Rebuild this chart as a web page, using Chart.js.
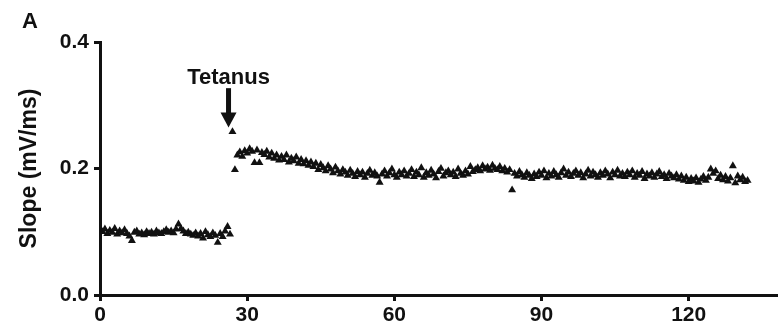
<!DOCTYPE html>
<html>
<head>
<meta charset="utf-8">
<script src="https://cdn.jsdelivr.net/npm/chart.js@4/dist/chart.umd.min.js"></script>
<style>
  html, body { margin: 0; padding: 0; background: #fff; }
  #wrap { width: 782px; height: 334px; }
</style>
</head>
<body>
<div id="wrap"><canvas id="chart"></canvas></div>
<script>
// sampling: one sweep every 30 s (minutes)
const sampleStep = 0.5;

// baseline slopes, first sweep at 0.5 min
const baselineStart = 0.5;
const baselineSlope = [
  0.100, 0.104, 0.097, 0.102, 0.099, 0.105, 0.096, 0.101, 0.098, 0.103,
  0.097, 0.093, 0.086, 0.099, 0.101, 0.096, 0.098, 0.095, 0.100, 0.097,
  0.099, 0.096, 0.101, 0.098, 0.097, 0.100, 0.103, 0.099, 0.101, 0.098,
  0.104, 0.112, 0.105, 0.101, 0.097, 0.099, 0.096, 0.094, 0.098, 0.093,
  0.097, 0.090, 0.100, 0.095, 0.092, 0.098, 0.094, 0.083, 0.097, 0.092,
  0.101, 0.108, 0.096
];

// post-tetanus slopes, first sweep at 27 min
const postStart = 27;
const postSlope = [
  0.258, 0.198, 0.221, 0.226, 0.219, 0.228, 0.224, 0.231, 0.227, 0.209,
  0.229, 0.209, 0.225, 0.222, 0.227, 0.218, 0.224, 0.216, 0.221, 0.213,
  0.219, 0.214, 0.221, 0.210, 0.216, 0.212, 0.218, 0.208, 0.214, 0.207,
  0.212, 0.205, 0.210, 0.203, 0.208, 0.198, 0.206, 0.201, 0.196, 0.204,
  0.199, 0.193, 0.202, 0.196, 0.191, 0.198, 0.194, 0.189, 0.197, 0.192,
  0.187, 0.195, 0.190, 0.194, 0.186, 0.192, 0.197, 0.189, 0.193, 0.188,
  0.178, 0.191, 0.196, 0.188, 0.193, 0.199, 0.190, 0.186, 0.194, 0.190,
  0.196, 0.188, 0.192, 0.198, 0.187, 0.194, 0.190, 0.201, 0.186, 0.193,
  0.189, 0.197, 0.191, 0.185, 0.195, 0.200, 0.188, 0.193, 0.196, 0.190,
  0.194, 0.187, 0.199, 0.192, 0.189, 0.196, 0.191, 0.203, 0.195, 0.198,
  0.201, 0.196, 0.204, 0.199, 0.202, 0.197, 0.205, 0.200, 0.198, 0.203,
  0.196, 0.200, 0.194, 0.198, 0.166, 0.192, 0.188, 0.195, 0.190, 0.186,
  0.193, 0.189, 0.184, 0.191, 0.187, 0.194, 0.189, 0.196, 0.185, 0.192,
  0.188, 0.195, 0.190, 0.186, 0.193, 0.199, 0.189, 0.194, 0.187, 0.192,
  0.196, 0.189, 0.193, 0.185, 0.191, 0.197, 0.188, 0.194, 0.190, 0.186,
  0.193, 0.189, 0.196, 0.191, 0.185, 0.194, 0.190, 0.197, 0.188, 0.192,
  0.187, 0.194, 0.190, 0.196, 0.186, 0.192, 0.189, 0.195, 0.184, 0.191,
  0.188, 0.193, 0.186, 0.191, 0.195, 0.187, 0.190, 0.184, 0.192, 0.188,
  0.185, 0.190, 0.183, 0.188, 0.181, 0.186, 0.179, 0.184, 0.180, 0.185,
  0.178, 0.183, 0.187, 0.181, 0.186, 0.199, 0.192, 0.196, 0.184, 0.189,
  0.182, 0.187, 0.180, 0.185, 0.204, 0.177, 0.188, 0.182, 0.186, 0.179,
  0.181
];

const xTicks = [0, 30, 60, 90, 120];
const yTicks = [0.0, 0.2, 0.4];
const tetanusAt = 26.2;

// build {x, y} points for the scatter
function toPoints(start, values) {
  return values.map((v, i) => ({ x: start + i * sampleStep, y: v }));
}
const points = toPoints(baselineStart, baselineSlope).concat(toPoints(postStart, postSlope));

const FONT = "'Liberation Sans', Arial, Helvetica, sans-serif";

// panel letter + tetanus arrow
const annotate = {
  id: "annotate",
  afterDraw(chart) {
    const ctx = chart.ctx;
    const x = chart.scales.x.getPixelForValue(tetanusAt);
    const y = chart.scales.y;
    const top = y.getPixelForValue(0.327);
    const tip = y.getPixelForValue(0.265);
    const headTop = tip - 15;
    ctx.save();
    ctx.fillStyle = "#111";
    ctx.font = "bold 22px " + FONT;
    ctx.textAlign = "left";
    ctx.textBaseline = "alphabetic";
    ctx.fillText("A", 22, 28);

    ctx.font = "bold 22px " + FONT;
    ctx.textAlign = "center";
    ctx.fillText("Tetanus", x, y.getPixelForValue(0.347) + 8);

    // shaft
    ctx.fillRect(x - 2.5, top, 5, headTop - top + 1);
    // head
    ctx.beginPath();
    ctx.moveTo(x - 8, headTop);
    ctx.lineTo(x + 8, headTop);
    ctx.lineTo(x, tip);
    ctx.closePath();
    ctx.fill();
    ctx.restore();
  }
};

const axisStyle = {
  grid: { display: true, drawOnChartArea: false, drawTicks: true, tickLength: 6, tickWidth: 3, tickColor: "#111", color: "#111" },
  border: { display: true, width: 3, color: "#111" }
};

new Chart(document.getElementById("chart"), {
  type: "scatter",
  data: {
    datasets: [{
      data: points,
      pointStyle: "triangle",
      pointRadius: 4.6,
      backgroundColor: "#111",
      borderColor: "#111",
      borderWidth: 0,
      showLine: false
    }]
  },
  plugins: [annotate],
  options: {
    responsive: true,
    maintainAspectRatio: false,
    animation: false,
    layout: { padding: { left: 12, top: 42, right: 5, bottom: 0 } },
    plugins: {
      legend: { display: false },
      tooltip: { enabled: false }
    },
    scales: {
      x: {
        type: "linear",
        min: 0,
        max: 138,
        ...axisStyle,
        afterFit: s => { s.height = 39; },
        afterBuildTicks: s => { s.ticks = xTicks.map(v => ({ value: v })); },
        ticks: {
          color: "#111",
          padding: 2,
          font: { family: FONT, size: 21, weight: "bold" },
          callback: v => String(v)
        }
      },
      y: {
        type: "linear",
        min: 0,
        max: 0.4,
        ...axisStyle,
        afterFit: s => { s.width = 88; },
        afterBuildTicks: s => { s.ticks = yTicks.map(v => ({ value: v })); },
        ticks: {
          color: "#111",
          padding: 5,
          font: { family: FONT, size: 21, weight: "bold" },
          callback: v => v.toFixed(1)
        },
        title: {
          display: true,
          text: "Slope (mV/ms)",
          color: "#111",
          padding: { top: 4, bottom: 4 },
          font: { family: FONT, size: 23, weight: "bold" }
        }
      }
    }
  }
});
</script>
</body>
</html>
